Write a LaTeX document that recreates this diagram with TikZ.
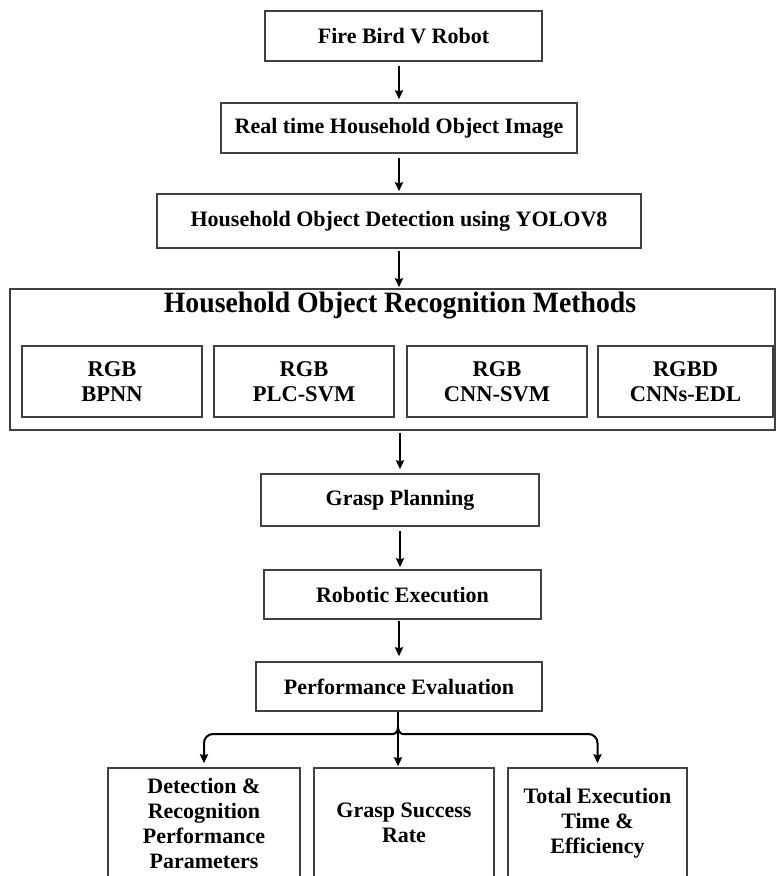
\documentclass[tikz,border=0pt]{standalone}
\usepackage{fontspec}
\setmainfont{Liberation Serif}
\usetikzlibrary{arrows.meta,calc}
\begin{document}
\begin{tikzpicture}[x=1pt,y=-1pt,
  box/.style={draw=black!75, line width=1.4pt, rectangle, inner sep=0pt, align=center,
              font=\fontsize{22}{25}\selectfont\bfseries},
  subbox/.style={box, minimum width=180pt, minimum height=71pt,
              font=\fontsize{22.5}{25}\selectfont\bfseries},
  botbox/.style={box, minimum height=110pt},
  arr/.style={line width=2pt, -{Stealth[length=9pt,width=8pt,inset=1pt]}}]
\useasboundingbox (0,0) rectangle (776,876);
% top chain
\node[box, minimum width=277pt, minimum height=50pt] (fire) at (403.5,36) {Fire Bird V Robot};
\node[box, minimum width=356pt, minimum height=50pt] (real) at (399,128) {Real time Household Object Image};
\node[box, minimum width=484pt, minimum height=54pt] (det) at (399,221) {Household Object Detection using YOLOV8};
% recognition block
\node[box, minimum width=765pt, minimum height=141pt] (rec) at (392.5,359.5) {};
\node[inner sep=0pt] (head) at (400,306)
  {\scalebox{0.94}[1]{\fontsize{29.5}{31}\selectfont\bfseries Household Object Recognition Methods}};
\node[subbox] (s1) at (112,381.5) {RGB\\BPNN};
\node[subbox] (s2) at (304,381.5) {RGB\\PLC-SVM};
\node[subbox] (s3) at (497,381.5) {RGB\\CNN-SVM};
\node[subbox, minimum width=175pt] (s4) at (685.5,381.5) {RGBD\\CNNs-EDL};
% lower chain
\node[box, minimum width=278pt, minimum height=52pt] (grasp) at (400,500) {Grasp Planning};
\node[box, minimum width=277pt, minimum height=49pt] (robot) at (402.5,594.5) {Robotic Execution};
\node[box, minimum width=286pt, minimum height=49pt] (perf) at (399,686.5) {Performance Evaluation};
% bottom boxes
\node[botbox, minimum width=192pt] (b1) at (204,823) {Detection \&\\Recognition\\Performance\\Parameters};
\node[botbox, minimum width=180pt] (b2) at (404,823) {Grasp Success\\Rate};
\node[botbox, minimum width=179pt] (b3) at (597.5,823) {Total Execution\\Time \&\\Efficiency};
% connectors
\draw[arr, shorten <=4pt, shorten >=3pt] (real.north |- fire.south) -- (real.north);
\draw[arr, shorten <=4pt, shorten >=2pt] (real.south) -- (real.south |- det.north);
\draw[arr, shorten <=2pt, shorten >=1pt] (det.south) -- (det.south |- rec.north);
\draw[arr, shorten <=2pt, shorten >=4pt] (rec.south -| grasp.north) -- (grasp.north);
\draw[arr, shorten <=4pt, shorten >=2pt] (grasp.south) -- (grasp.south |- robot.north);
\draw[arr, shorten <=1pt, shorten >=5pt] (perf.north |- robot.south) -- (perf.north);
% distribution brace
\coordinate (cusp) at (398,727);
\coordinate (brace) at (398,734);
\draw[arr, shorten >=1pt] (perf.south -| cusp) -- (cusp |- b2.north);
\draw[arr, rounded corners=9pt, shorten >=4pt] (cusp) .. controls (398,733) and (394,734) .. ([xshift=-14pt]brace) -- (b1.north |- brace) -- (b1.north);
\draw[arr, rounded corners=9pt, shorten >=4pt] (cusp) .. controls (398,733) and (402,734) .. ([xshift=14pt]brace) -- (b3.north |- brace) -- (b3.north);
\end{tikzpicture}
\end{document}
